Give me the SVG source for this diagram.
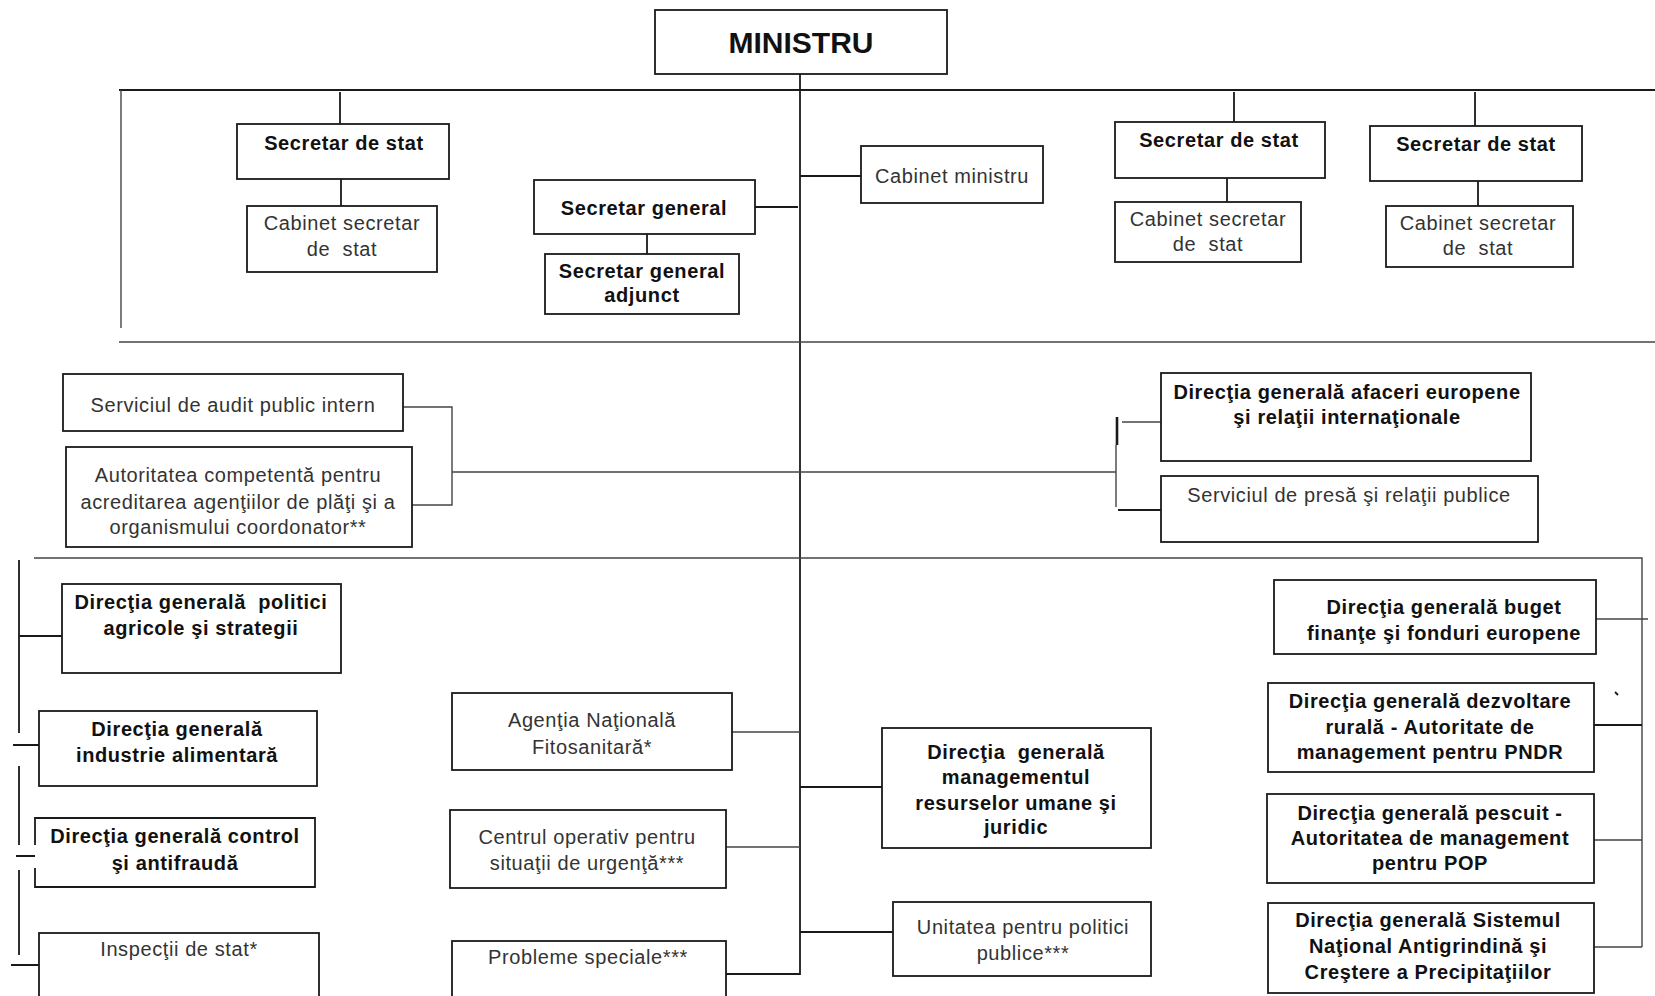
<svg xmlns="http://www.w3.org/2000/svg" width="1655" height="996" viewBox="0 0 1655 996">
<style>
.box{fill:#fff;stroke:#1a1a1a;stroke-width:1.8}
.b{font-family:"Liberation Sans",Arial,sans-serif;font-weight:bold;font-size:20px;fill:#111;text-anchor:middle;letter-spacing:0.6px}
.r{font-family:"Liberation Sans",Arial,sans-serif;font-size:20px;fill:#333;text-anchor:middle;letter-spacing:0.6px}
.ln{stroke:#1a1a1a;stroke-width:1.8;fill:none}
.th{stroke:#444;stroke-width:1.4;fill:none}
</style>
<rect width="1655" height="996" fill="#fff"/>
<g id="connectors">
<path class="ln" d="M800,74V975"/>
<path class="ln" d="M119,90H1655"/>
<path class="th" d="M121,90V328"/>
<path class="th" d="M119,342H1655"/>
<path class="ln" d="M340,92V124M341,179V206"/>
<path class="ln" d="M755,207H798M647,234V254"/>
<path class="ln" d="M800,176H861"/>
<path class="ln" d="M1234,92V122M1227,178V202"/>
<path class="ln" d="M1475,92V126M1478,174V206"/>
<path class="th" d="M403,407H452V505H412M452,472H1116"/>
<path class="th" d="M1116,445V507"/>
<path class="ln" d="M1117,417V445" style="stroke-width:2.6"/>
<path class="th" d="M1122,422H1161"/>
<path class="ln" d="M1118,510H1161"/>
<path class="th" d="M34,558H1642V947"/>
<path class="ln" d="M19,560V733M19,766V845M19,870V955"/>
<path class="ln" d="M13,745H39M16,856H43M11,965H39"/>
<path class="ln" d="M19,636H62"/>
<path class="th" d="M732,732H800M726,847H800"/>
<path class="ln" d="M726,974H800"/>
<path class="ln" d="M800,787H882M800,932H893"/>
<path class="th" d="M1596,619H1648"/>
<path class="ln" d="M1594,725H1642"/>
<path class="th" d="M1594,840H1642M1594,947H1642"/>
<path class="ln" d="M1615,692L1618,695"/>
</g>
<g id="ministru"><rect class="box" x="655" y="10" width="292" height="64"/><text class="b" x="801" y="53" style="font-size:30px;letter-spacing:0">MINISTRU</text></g>
<g id="ss1"><rect class="box" x="237" y="124" width="212" height="55"/><text class="b" x="344" y="150">Secretar de stat</text></g>
<g id="css1"><rect class="box" x="247" y="206" width="190" height="66"/><text class="r" x="342" y="230">Cabinet secretar</text><text class="r" x="342" y="256" xml:space="preserve">de  stat</text></g>
<g id="sg"><rect class="box" x="534" y="180" width="221" height="54"/><text class="b" x="644" y="215">Secretar general</text></g>
<g id="sga"><rect class="box" x="545" y="254" width="194" height="60"/><text class="b" x="642" y="278">Secretar general</text><text class="b" x="642" y="302">adjunct</text></g>
<g id="cabmin"><rect class="box" x="861" y="146" width="182" height="57"/><text class="r" x="952" y="183">Cabinet ministru</text></g>
<g id="ss2"><rect class="box" x="1115" y="122" width="210" height="56"/><text class="b" x="1219" y="147">Secretar de stat</text></g>
<g id="css2"><rect class="box" x="1115" y="202" width="186" height="60"/><text class="r" x="1208" y="226">Cabinet secretar</text><text class="r" x="1208" y="251" xml:space="preserve">de  stat</text></g>
<g id="ss3"><rect class="box" x="1370" y="126" width="212" height="55"/><text class="b" x="1476" y="151">Secretar de stat</text></g>
<g id="css3"><rect class="box" x="1386" y="206" width="187" height="61"/><text class="r" x="1478" y="230">Cabinet secretar</text><text class="r" x="1478" y="255" xml:space="preserve">de  stat</text></g>
<g id="audit"><rect class="box" x="63" y="374" width="340" height="57"/><text class="r" x="233" y="412">Serviciul de audit public intern</text></g>
<g id="autoritatea"><rect class="box" x="66" y="447" width="346" height="100"/><text class="r" x="238" y="482">Autoritatea competentă pentru</text><text class="r" x="238" y="509">acreditarea agenţiilor de plăţi şi a</text><text class="r" x="238" y="534">organismului coordonator**</text></g>
<g id="afaceri"><rect class="box" x="1161" y="373" width="370" height="88"/><text class="b" x="1347" y="399">Direcţia generală afaceri europene</text><text class="b" x="1347" y="424">şi relaţii internaţionale</text></g>
<g id="presa"><rect class="box" x="1161" y="476" width="377" height="66"/><text class="r" x="1349" y="502">Serviciul de presă şi relaţii publice</text></g>
<g id="politici"><rect class="box" x="62" y="584" width="279" height="89"/><text class="b" x="201" y="609" xml:space="preserve">Direcţia generală  politici</text><text class="b" x="201" y="635">agricole şi strategii</text></g>
<g id="industrie"><rect class="box" x="39" y="711" width="278" height="75"/><text class="b" x="177" y="736">Direcţia generală</text><text class="b" x="177" y="762">industrie alimentară</text></g>
<g id="control"><path class="box" d="M35,845V818H315V887H35V868"/><text class="b" x="175" y="843">Direcţia generală control</text><text class="b" x="175" y="870">şi antifraudă</text></g>
<g id="inspectii"><rect class="box" x="39" y="933" width="280" height="70"/><text class="r" x="179" y="956">Inspecţii de stat*</text></g>
<g id="anf"><rect class="box" x="452" y="693" width="280" height="77"/><text class="r" x="592" y="727">Agenţia Naţională</text><text class="r" x="592" y="754">Fitosanitară*</text></g>
<g id="cops"><rect class="box" x="450" y="810" width="276" height="78"/><text class="r" x="587" y="844">Centrul operativ pentru</text><text class="r" x="587" y="870">situaţii de urgenţă***</text></g>
<g id="probleme"><rect class="box" x="452" y="941" width="274" height="60"/><text class="r" x="588" y="964">Probleme speciale***</text></g>
<g id="mru"><rect class="box" x="882" y="728" width="269" height="120"/><text class="b" x="1016" y="759" xml:space="preserve">Direcţia  generală</text><text class="b" x="1016" y="784">managementul</text><text class="b" x="1016" y="810">resurselor umane şi</text><text class="b" x="1016" y="834">juridic</text></g>
<g id="upp"><rect class="box" x="893" y="902" width="258" height="74"/><text class="r" x="1023" y="934">Unitatea pentru politici</text><text class="r" x="1023" y="960">publice***</text></g>
<g id="buget"><rect class="box" x="1274" y="580" width="322" height="74"/><text class="b" x="1444" y="614">Direcţia generală buget</text><text class="b" x="1444" y="640">finanţe şi fonduri europene</text></g>
<g id="pndr"><rect class="box" x="1268" y="683" width="326" height="89"/><text class="b" x="1430" y="708">Direcţia generală dezvoltare</text><text class="b" x="1430" y="734">rurală - Autoritate de</text><text class="b" x="1430" y="759">management pentru PNDR</text></g>
<g id="pop"><rect class="box" x="1267" y="794" width="327" height="89"/><text class="b" x="1430" y="820">Direcţia generală pescuit -</text><text class="b" x="1430" y="845">Autoritatea de management</text><text class="b" x="1430" y="870">pentru POP</text></g>
<g id="sna"><rect class="box" x="1268" y="903" width="326" height="90"/><text class="b" x="1428" y="927">Direcţia generală Sistemul</text><text class="b" x="1428" y="953">Naţional Antigrindină şi</text><text class="b" x="1428" y="979">Creştere a Precipitaţiilor</text></g>
</svg>
